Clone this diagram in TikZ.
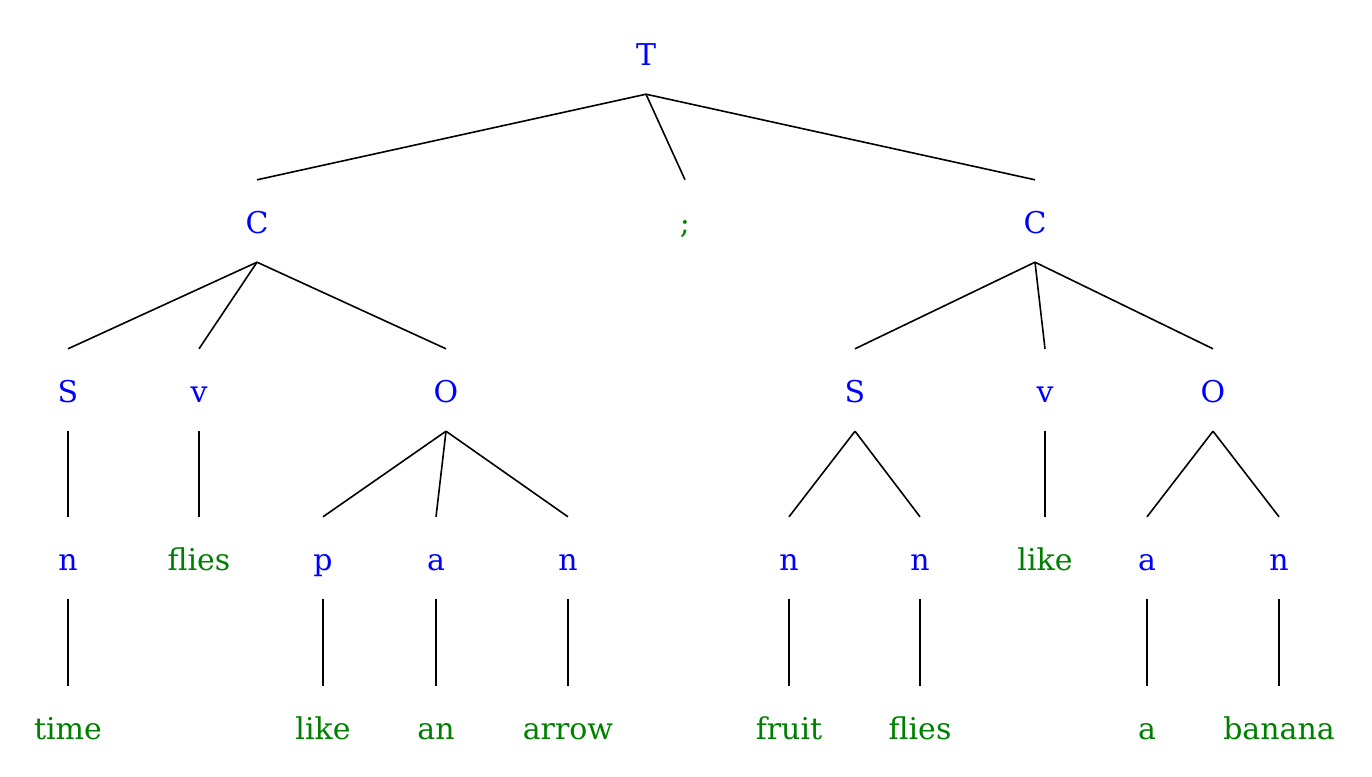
\documentclass[tikz,border=0pt]{standalone}
\usepackage{fontspec}
\setmainfont{DejaVu Serif}
\usepackage{xcolor}
\usetikzlibrary{positioning}
\definecolor{catblue}{RGB}{0,0,255}
\definecolor{wordgreen}{RGB}{0,128,0}

\begin{document}
\begin{tikzpicture}[x=1pt, y=-1pt,
	every node/.style={anchor=base, inner sep=0pt, text height=53pt, text depth=29pt, font=\fontsize{30}{36}\selectfont},
	cat/.style={text=catblue}, word/.style={text=wordgreen}, branch/.style={line width=1.6pt}]
	\useasboundingbox (0,0) rectangle (1372,776);
	\node[cat] (T) at (646,65) {T};
	\node[cat] (C1) at (257,233) {C};
	\node[word] (semi) at (685,233) {;};
	\node[cat] (C2) at (1035,233) {C};
	\node[cat] (S1) at (68,402) {S};
	\node[cat] (v1) at (199,402) {v};
	\node[cat] (O1) at (446,402) {O};
	\node[cat] (S2) at (855,402) {S};
	\node[cat] (v2) at (1045,402) {v};
	\node[cat] (O2) at (1213,402) {O};
	\node[cat] (n1) at (68,570) {n};
	\node[word] (flies1) at (199,570) {flies};
	\node[cat] (p1) at (323,570) {p};
	\node[cat] (a1) at (436,570) {a};
	\node[cat] (n2) at (568,570) {n};
	\node[cat] (n3) at (789,570) {n};
	\node[cat] (n4) at (920,570) {n};
	\node[word] (like2) at (1045,570) {like};
	\node[cat] (a2) at (1147,570) {a};
	\node[cat] (n5) at (1279,570) {n};
	\node[word] (time) at (68,739) {time};
	\node[word] (like1) at (323,739) {like};
	\node[word] (an) at (436,739) {an};
	\node[word] (arrow) at (568,739) {arrow};
	\node[word] (fruit) at (789,739) {fruit};
	\node[word] (flies2) at (920,739) {flies};
	\node[word] (a3) at (1147,739) {a};
	\node[word] (banana) at (1279,739) {banana};
	\draw[branch] (T.south) -- (C1.north);
	\draw[branch] (T.south) -- (semi.north);
	\draw[branch] (T.south) -- (C2.north);
	\draw[branch] (C1.south) -- (S1.north);
	\draw[branch] (C1.south) -- (v1.north);
	\draw[branch] (C1.south) -- (O1.north);
	\draw[branch] (C2.south) -- (S2.north);
	\draw[branch] (C2.south) -- (v2.north);
	\draw[branch] (C2.south) -- (O2.north);
	\draw[branch] (S1.south) -- (n1.north);
	\draw[branch] (v1.south) -- (flies1.north);
	\draw[branch] (O1.south) -- (p1.north);
	\draw[branch] (O1.south) -- (a1.north);
	\draw[branch] (O1.south) -- (n2.north);
	\draw[branch] (S2.south) -- (n3.north);
	\draw[branch] (S2.south) -- (n4.north);
	\draw[branch] (v2.south) -- (like2.north);
	\draw[branch] (O2.south) -- (a2.north);
	\draw[branch] (O2.south) -- (n5.north);
	\draw[branch] (n1.south) -- (time.north);
	\draw[branch] (p1.south) -- (like1.north);
	\draw[branch] (a1.south) -- (an.north);
	\draw[branch] (n2.south) -- (arrow.north);
	\draw[branch] (n3.south) -- (fruit.north);
	\draw[branch] (n4.south) -- (flies2.north);
	\draw[branch] (a2.south) -- (a3.north);
	\draw[branch] (n5.south) -- (banana.north);
\end{tikzpicture}
\end{document}
